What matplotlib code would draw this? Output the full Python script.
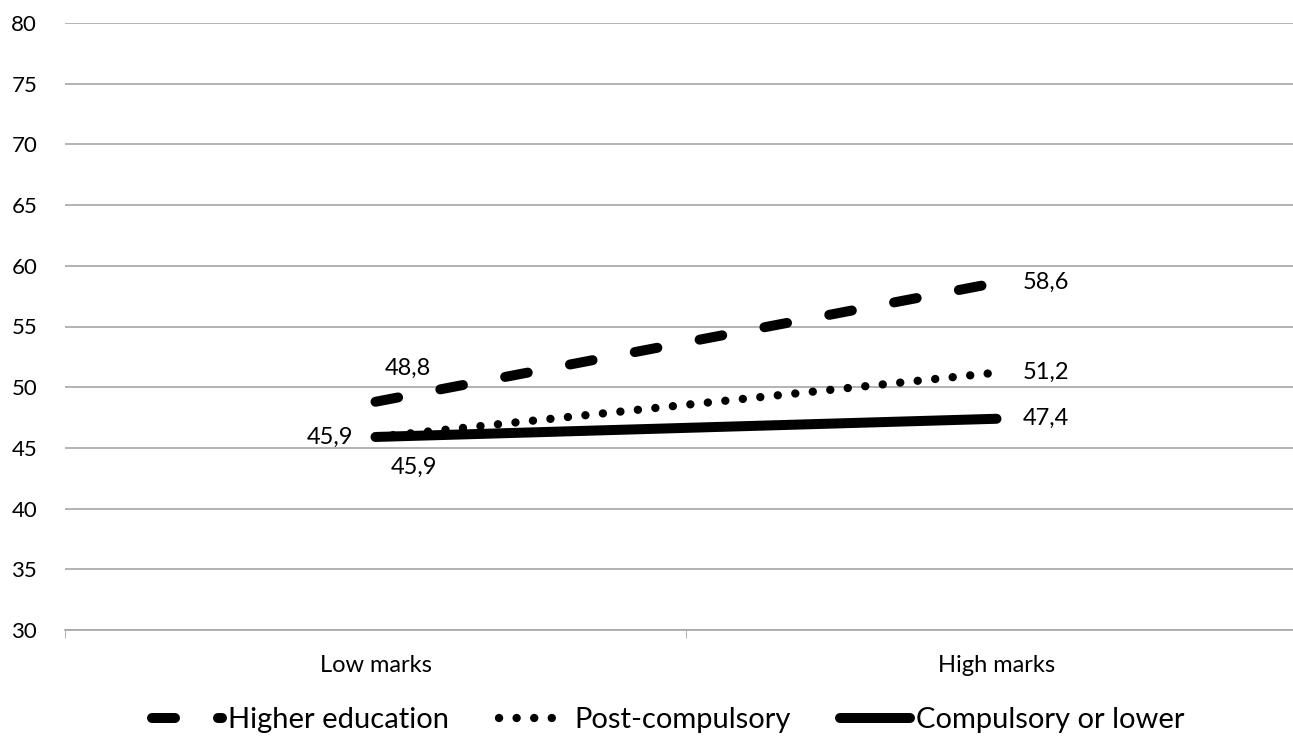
import matplotlib.pyplot as plt

plt.rcParams['font.family'] = ['Lato', 'DejaVu Sans']

# data
categories = ['Low marks', 'High marks']
higher_edu = [48.8, 58.6]
post_comp = [45.9, 51.2]
compulsory = [45.9, 47.4]
y_ticks = [30, 35, 40, 45, 50, 55, 60, 65, 70, 75, 80]

fig = plt.figure(figsize=(12.93, 7.38), dpi=100)
ax = fig.add_axes([65 / 1293, 1 - 630 / 738, 1242 / 1293, 607 / 738])

x = list(range(len(categories)))

# Higher education - dashed
l1, = ax.plot(x, higher_edu, color='black', lw=7.2, solid_capstyle='round',
              dash_capstyle='round', dashes=(2.3, 4.3), label='Higher education')
# Post-compulsory - dotted
l2, = ax.plot(x, post_comp, color='black', lw=6.0, dash_capstyle='round',
              dashes=(0.01, 2.1), label='Post-compulsory')
# Compulsory - solid
l3, = ax.plot(x, compulsory, color='black', lw=7.2, solid_capstyle='round',
              label='Compulsory or lower')


def fmt(v):
    return f'{v:.1f}'.replace('.', ',')


# data labels
lab_kw = dict(fontsize=17, color='black', textcoords='offset points', va='center')
ax.annotate(fmt(higher_edu[0]), (x[0], higher_edu[0]), xytext=(7, 24),
            ha='left', **lab_kw)
ax.annotate(fmt(post_comp[0]), (x[0], post_comp[0]), xytext=(-16, 0),
            ha='right', **lab_kw)
ax.annotate(fmt(compulsory[0]), (x[0], compulsory[0]), xytext=(28, -22),
            ha='center', **lab_kw)
for series in (higher_edu, post_comp, compulsory):
    ax.annotate(fmt(series[1]), (x[1], series[1]), xytext=(19, 0),
                ha='left', **lab_kw)

ax.set_ylim(30, 80)
ax.set_yticks(y_ticks)
ax.set_xlim(-0.5, 1.5)
ax.set_xticks(x)
ax.set_xticklabels(categories)
ax.set_xticks([-0.5, 0.5, 1.5], minor=True)
ax.tick_params(axis='x', which='major', length=0, pad=18, labelsize=17)
ax.tick_params(axis='x', which='minor', length=6, color='#A6A6A6', direction='out')
ax.tick_params(axis='y', length=0, pad=20, labelsize=16)

ax.grid(axis='y', color='#A6A6A6', lw=1.2)
ax.set_axisbelow(True)
for s in ['top', 'right', 'left']:
    ax.spines[s].set_visible(False)
ax.spines['bottom'].set_color('#A6A6A6')
ax.spines['bottom'].set_linewidth(1.2)

fig.legend(handles=[l1, l2, l3], loc='lower center', bbox_to_anchor=(0.517, 0.003),
           ncol=3, frameon=False, fontsize=21, handlelength=2.4,
           handletextpad=0.2, columnspacing=1.7, borderpad=0.1, borderaxespad=0)

fig.savefig('out.png', dpi=100)
